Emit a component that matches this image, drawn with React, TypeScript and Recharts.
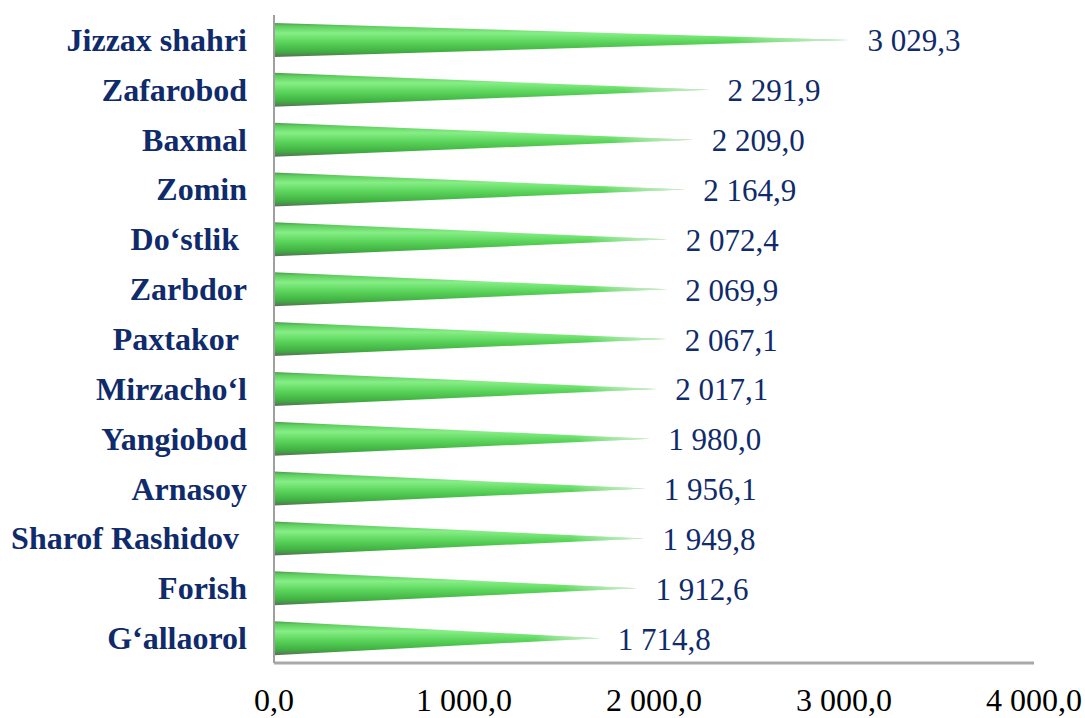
import { BarChart, Bar, XAxis, YAxis, LabelList } from 'recharts'

const CATEGORIES = [
  'Jizzax shahri',
  'Zafarobod',
  'Baxmal',
  'Zomin',
  'Do‘stlik\u00A0',
  'Zarbdor',
  'Paxtakor\u00A0',
  'Mirzacho‘l',
  'Yangiobod',
  'Arnasoy',
  'Sharof Rashidov\u00A0',
  'Forish',
  'G‘allaorol',
]
const VALUES = [3029.3, 2291.9, 2209.0, 2164.9, 2072.4, 2069.9, 2067.1, 2017.1, 1980.0, 1956.1, 1949.8, 1912.6, 1714.8]
const X_TICKS = [0, 1000, 2000, 3000, 4000]

const SERIF = "'Liberation Serif', 'Times New Roman', serif"
const NAVY = '#0f2b6b'

// 3 029,3 style: space thousands, comma decimal
const fmt = (v: number) => {
  const [int, dec] = Number(v).toFixed(1).split('.')
  return int.replace(/\B(?=(\d{3})+(?!\d))/g, ' ') + ',' + dec
}

const data = CATEGORIES.map((name, i) => ({ name, value: VALUES[i] }))

function Cone(props: any) {
  const { x, y, width, height, index } = props
  if (!width || width <= 0) return null
  const tipX = x + width
  const midY = y + height / 2
  const d = `M${x},${y} L${tipX},${midY} L${x},${y + height} Z`
  const vId = `cone-v-${index}`
  const hId = `cone-h-${index}`
  return (
    <g>
      <defs>
        <linearGradient id={vId} x1="0" y1="0" x2="0" y2="1">
          <stop offset="0%" stopColor="#4f9a52" />
          <stop offset="10%" stopColor="#5fcf5f" />
          <stop offset="30%" stopColor="#86ee86" />
          <stop offset="55%" stopColor="#5cd65c" />
          <stop offset="85%" stopColor="#3fae41" />
          <stop offset="100%" stopColor="#5a6e5a" />
        </linearGradient>
        <linearGradient id={hId} x1="0" y1="0" x2="1" y2="0">
          <stop offset="0%" stopColor="#ffffff" stopOpacity={0} />
          <stop offset="80%" stopColor="#ffffff" stopOpacity={0} />
          <stop offset="100%" stopColor="#e8ece8" stopOpacity={0.85} />
        </linearGradient>
      </defs>
      <path d={d} fill={`url(#${vId})`} />
      <path d={d} fill={`url(#${hId})`} />
    </g>
  )
}

function NameTick({ x, y, payload }: any) {
  return (
    <text
      x={x}
      y={y}
      textAnchor="end"
      dominantBaseline="central"
      style={{ fontFamily: SERIF, fontWeight: 700, fontSize: 32, fill: NAVY }}
    >
      {payload.value}
    </text>
  )
}

function ValueTick({ x, y, payload }: any) {
  return (
    <text x={x} y={y + 48} textAnchor="middle" style={{ fontFamily: SERIF, fontSize: 32, fill: '#000' }}>
      {fmt(payload.value)}
    </text>
  )
}

function ValueLabel({ x, y, width, height, value }: any) {
  return (
    <text
      x={x + width + 18}
      y={y + height / 2 + 1}
      dominantBaseline="central"
      style={{ fontFamily: SERIF, fontSize: 31, fill: NAVY }}
    >
      {fmt(Number(value))}
    </text>
  )
}

export default function App() {
  return (
    <div style={{ position: 'absolute', left: 0, top: 0, background: '#fff', fontFamily: SERIF }}>
      <BarChart
        width={1085}
        height={718}
        data={data}
        layout="vertical"
        margin={{ top: 15, right: 51, bottom: 0, left: 0 }}
        barCategoryGap="16%"
      >
        <XAxis
          type="number"
          domain={[0, 4000]}
          ticks={X_TICKS}
          height={55}
          tickSize={0}
          tickMargin={0}
          axisLine={{ stroke: '#a8a8a8', strokeWidth: 3 }}
          tick={<ValueTick />}
          interval={0}
        />
        <YAxis
          type="category"
          dataKey="name"
          width={274}
          tickSize={0}
          tickMargin={27}
          axisLine={{ stroke: '#a0a0a0', strokeWidth: 2 }}
          tick={<NameTick />}
          interval={0}
        />
        <Bar dataKey="value" shape={<Cone />} isAnimationActive={false}>
          <LabelList dataKey="value" content={<ValueLabel />} />
        </Bar>
      </BarChart>
    </div>
  )
}
